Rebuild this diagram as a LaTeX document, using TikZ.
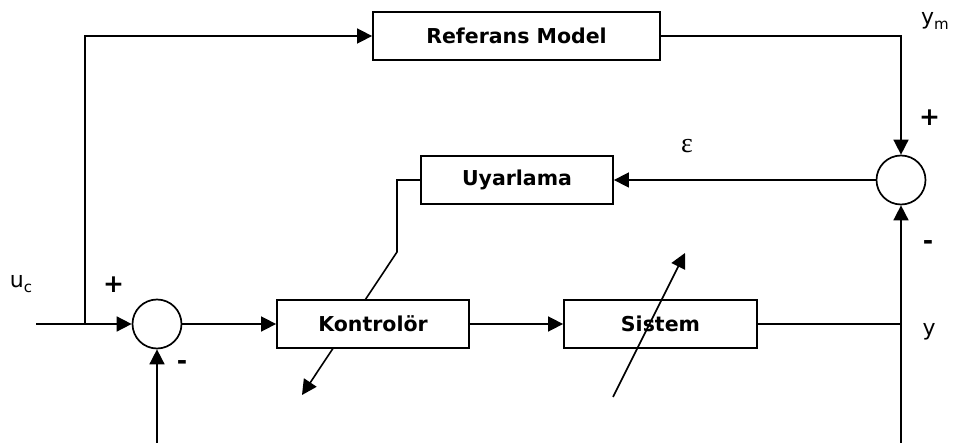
\documentclass[tikz,border=0pt]{standalone}
\usepackage{fontspec}
\setmainfont{DejaVu Sans}
\newfontfamily\serifgr{Liberation Serif}
\usetikzlibrary{arrows.meta}
\begin{document}
\begin{tikzpicture}[x=1pt,y=-1pt,
  ln/.style={draw,line width=1.6pt},
  arr/.style={ln,-{Triangle[length=15pt,width=15pt]}},
  blk/.style={draw,line width=1.8pt,fill=white,rectangle,minimum height=48pt,inner sep=0pt,
    font=\fontsize{20.5}{24}\selectfont\bfseries},
  sumc/.style={draw,line width=1.7pt,fill=white,circle,minimum size=49pt,inner sep=0pt},
  lbl/.style={inner sep=0pt,font=\fontsize{22}{24}\selectfont},
  sgn/.style={inner sep=0pt,font=\fontsize{25}{26}\selectfont\bfseries}]
\useasboundingbox (0,0) rectangle (957,443);

% routing points
\coordinate (in) at (36,324);
\coordinate (j1) at (85,324);
\coordinate (c1) at (85,36);
\coordinate (c2) at (901,36);
\coordinate (j2) at (901,324);
\coordinate (b2) at (901,443);
\coordinate (b1) at (157,443);
\coordinate (u1) at (397,180);
\coordinate (u2) at (397,252);
\coordinate (u3) at (302,395);
\coordinate (a1) at (613,397);
\coordinate (a2) at (685,253);

% upper blocks and summing junctions
\node[blk,minimum width=287pt] (ref) at (516.5,36) {Referans Model};
\node[blk,minimum width=192pt] (uy) at (517,180) {Uyarlama};
\node[sumc] (s1) at (157,324) {};
\node[sumc] (s2) at (901,180) {};

% adaptation of the controller, drawn first so the block covers it
\draw[arr] (uy.west) -- (u1) -- (u2) -- (u3);

% forward blocks
\node[blk,minimum width=192pt] (kon) at (373,324) {Kontrolör};
\node[blk,minimum width=193pt] (sis) at (660.5,324) {Sistem};

% signal paths
\draw[arr] (in) -- (s1.west);
\draw[arr] (j1) -- (c1) -- (ref.west);
\draw[arr] (ref.east) -- (c2) -- (s2.north);
\draw[arr] (s2.west) -- (uy.east);
\draw[arr] (s1.east) -- (kon.west);
\draw[arr] (kon.east) -- (sis.west);
\draw[ln] (sis.east) -- (j2);
\draw[arr] (b2) -- (s2.south);
\draw[arr] (b1) -- (s1.south);

% varying plant
\draw[arr] (a1) -- (a2);

% labels
\node[lbl] (luc) at (21,284) {u\raisebox{-5pt}{\fontsize{15}{15}\selectfont c}};
\node[sgn] (p1) at (113.5,285) {+};
\node[sgn] (m1) at (182,365) {-};
\node[lbl] (lym) at (935,21) {y\raisebox{-5pt}{\fontsize{15}{15}\selectfont m}};
\node[sgn] (p2) at (929.5,117.5) {+};
\node[sgn] (m2) at (928,245) {-};
\node[lbl] (ly) at (929,332) {y};
\node[inner sep=0pt,font=\fontsize{28}{28}\selectfont\serifgr] (eps) at (687,146) {ε};
\end{tikzpicture}
\end{document}
